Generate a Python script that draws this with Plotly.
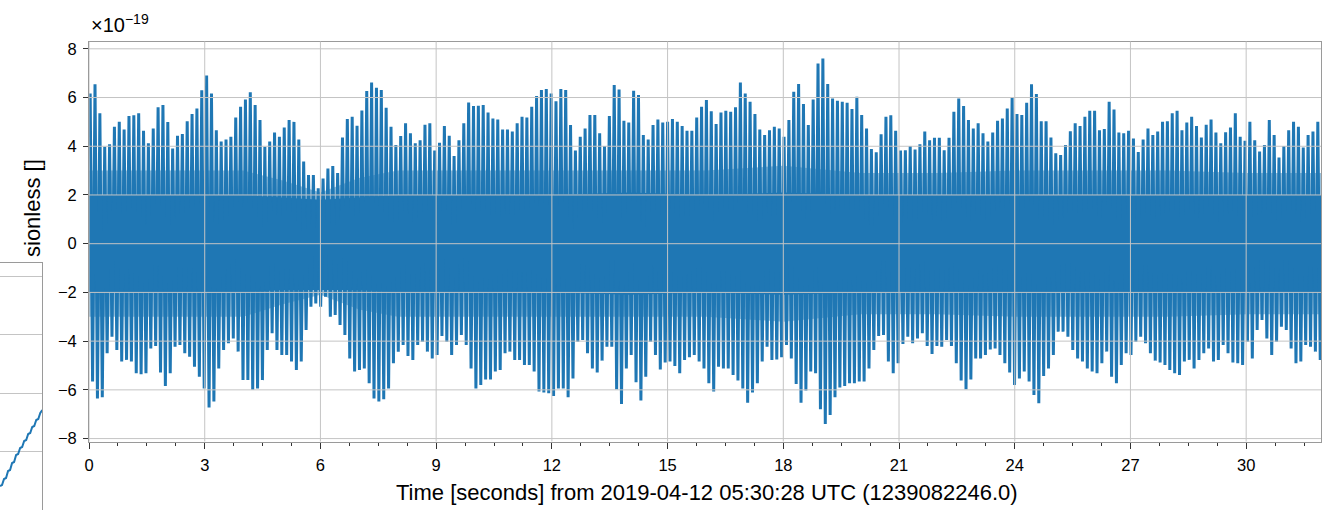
import numpy as np
import plotly.graph_objects as go

W, H = 1322, 510

# ---- data (strain, in units of 1e-19), read per oscillation peak ----
peak_top = [
    6.17, 6.54, 5.35, 3.98, 4.08, 4.8, 5.0, 4.69, 5.24, 5.27, 5.35, 4.64, 4.12, 4.73, 5.6, 5.69, 5.0, 3.91, 4.43, 4.5,
    5.03, 5.32, 5.55, 6.3, 6.9, 6.17, 4.66, 4.19, 4.28, 4.39, 5.18, 5.62, 5.92, 6.22, 5.69, 5.08, 3.98, 4.19, 4.56, 4.39,
    4.77, 5.08, 5.0, 4.28, 3.37, 2.82, 2.82, 2.27, 2.68, 3.09, 3.19,
    2.9, 4.36, 5.12, 5.21, 4.84, 5.47, 6.27, 6.62, 6.4, 6.31, 5.58, 4.8, 4.05, 4.42, 4.94, 4.53, 4.12, 4.25, 4.88, 4.94,
    3.82, 4.14, 4.83, 4.43, 3.6, 4.25, 4.94, 5.8, 5.65, 5.66, 5.69, 5.38, 5.14, 5.1, 4.69, 4.69, 4.6, 4.94, 5.21, 5.18,
    5.62, 6.06, 6.31, 6.35, 6.17, 5.85, 6.35, 6.31, 4.87, 3.82,
    4.39, 4.73, 5.28, 5.28, 4.53, 4.01, 5.24, 6.51, 6.33, 5.05, 4.97, 6.28, 6.1, 4.46, 4.28, 4.87, 5.1, 4.97, 5.01, 5.12,
    5.01, 4.83, 4.64, 4.64, 5.18, 5.62, 5.9, 5.44, 4.91, 5.38, 5.46, 5.42, 5.6, 6.62, 6.17, 5.83, 5.32, 4.69, 4.46, 4.66,
    4.8, 4.73, 4.39, 5.08, 6.24, 6.55, 5.73, 4.87, 5.92, 7.4, 7.6,
    6.55, 5.96, 5.87, 5.83, 5.79, 5.53, 6.03, 5.28, 4.73, 3.89, 3.75, 4.49, 5.21, 5.27, 4.64, 3.82, 3.84, 4.01, 3.87, 4.08,
    4.6, 4.25, 4.35, 4.35, 3.84, 4.35, 5.42, 5.96, 5.65, 5.08, 4.73, 4.94, 4.53, 4.19, 4.56, 5.05, 5.14, 5.55, 6.0, 5.32,
    5.28, 5.79, 6.54, 6.14, 5.03, 5.03, 4.36, 3.71, 3.64, 4.05,
    4.62, 4.94, 4.83, 5.21, 5.46, 5.46, 4.66, 4.71, 5.83, 5.51, 4.56, 4.53, 4.64, 4.32, 3.76, 4.28, 4.73, 4.46, 4.6, 5.01,
    5.03, 5.35, 5.46, 4.66, 4.97, 5.21, 4.83, 4.36, 4.88, 5.1, 4.56, 4.12, 4.57, 4.77, 5.35, 4.39, 4.23, 5.01, 4.25, 3.78,
    4.05, 5.08, 4.46, 3.54, 4.01, 4.66, 5.01, 4.8, 3.95, 4.46, 4.6, 5.01,
]
peak_bottom = [
    -5.66, -6.35, -6.3, -4.5, -3.82, -4.36, -4.84, -4.77, -4.84, -5.32, -5.36, -5.32, -4.3, -4.2, -5.29, -5.84, -5.32,
    -4.23, -4.16, -4.5, -4.64, -5.05, -5.46, -5.94, -6.72, -6.48, -5.12, -4.36, -4.09, -3.89, -4.43, -5.6, -5.6, -6.0,
    -5.94, -5.6, -4.36, -3.68, -4.36, -4.57, -4.57, -4.84, -5.18, -4.84, -3.54, -2.59, -2.45, -2.59, -2.18, -3.0, -2.93,
    -3.34, -3.75, -4.71, -5.25, -5.18, -5.12, -5.73, -6.35, -6.48, -6.39, -5.94, -4.91, -4.43, -4.16, -4.61, -4.77,
    -4.16, -4.02, -4.43, -4.71, -4.57, -3.79, -4.02, -4.57, -4.16, -3.75, -4.16, -5.12, -5.94, -5.8, -5.57, -5.57,
    -5.25, -5.18, -4.5, -4.43, -4.77, -4.77, -4.98, -4.98, -5.25, -6.07, -6.11, -6.14, -6.25, -5.94, -5.94, -6.3,
    -5.53, -4.02, -3.95,
    -4.5, -5.12, -5.29, -4.8, -4.23, -4.23, -5.98, -6.58, -5.12, -4.57, -5.69, -6.44, -5.46, -4.02, -4.57, -5.16,
    -4.88, -4.84, -5.02, -5.32, -4.77, -4.66, -4.57, -4.84, -5.12, -5.73, -6.07, -5.05, -5.12, -5.12, -5.39, -5.62,
    -5.94, -6.53, -6.11, -5.73, -4.84, -4.23, -4.77, -4.75, -4.66, -4.16, -4.71, -5.76, -6.53, -6.03, -5.25, -5.32,
    -6.8, -7.4,
    -7.03, -6.3, -5.9, -5.84, -5.73, -5.73, -5.66, -5.66, -5.12, -4.36, -3.79, -3.75, -4.84, -5.32, -4.91, -4.12,
    -3.82, -4.09, -3.89, -3.68, -4.2, -4.53, -4.2, -4.23, -3.95, -4.2, -4.91, -5.62, -5.98, -5.57, -4.71, -4.71,
    -4.57, -4.34, -4.3, -4.57, -4.91, -5.29, -5.8, -5.53, -5.25, -5.66, -6.21, -6.55, -5.43, -5.12, -4.57, -3.61,
    -3.61, -3.82, -4.36,
    -4.71, -4.84, -5.12, -5.25, -5.32, -4.91, -4.43, -5.46, -5.73, -4.98, -4.5, -4.57, -4.02, -3.82, -4.09, -4.5,
    -4.8, -4.88, -4.98, -5.18, -5.32, -5.39, -4.84, -4.77, -5.12, -4.77, -4.5, -4.3, -4.84, -4.77, -4.16, -4.5,
    -4.88, -4.91, -4.98, -4.02, -4.71, -3.54, -3.13, -3.89, -4.57, -4.02, -3.41, -3.54, -4.3, -4.91, -4.84, -4.16,
    -4.23, -4.43, -4.77,
]
t_start = 0.03     # seconds, first sampled peak
t_step = 0.1258    # seconds between peaks

# solid inner band of the dense high-frequency signal
core_t = [0, 2, 4, 5, 6, 7, 8, 10, 12, 14, 16, 18, 20, 22, 24, 26, 28, 30, 31.94]
core_hi = [2.0, 2.0, 2.0, 1.9, 1.8, 1.9, 2.0, 2.0, 2.0, 2.1, 2.0, 2.1, 2.0, 2.0, 2.0, 2.0, 2.0, 2.0, 2.0]
core_lo = [-2.0, -2.0, -2.0, -1.9, -1.9, -1.9, -2.0, -2.0, -2.0, -2.1, -2.0, -2.1, -2.0, -2.0, -2.0, -2.0, -2.0, -2.0, -2.0]
# mostly filled (streaky) band around the core
mid_hi = [3.0, 3.0, 3.0, 2.6, 2.1, 2.7, 3.0, 3.0, 3.0, 3.0, 3.0, 3.2, 2.9, 2.9, 3.0, 3.0, 3.0, 2.9, 2.9]
mid_lo = [-3.0, -3.0, -3.0, -2.5, -2.1, -2.7, -3.0, -3.0, -3.0, -3.0, -3.0, -3.2, -2.9, -2.9, -3.0, -3.0, -3.0, -2.9, -2.9]

# partial neighbouring panel (left, clipped)
inset_x = [0, 2, 4, 6, 8, 10, 12, 14, 16, 18, 20, 22, 24, 26, 28, 30, 32, 34, 36, 38, 40, 42]
inset_y = [0.410, 0.427, 0.530, 0.547, 0.667, 0.684, 0.803, 0.821, 0.940, 0.957, 1.060, 1.077,
           1.179, 1.197, 1.299, 1.316, 1.419, 1.436, 1.538, 1.556, 1.658, 1.709]

x_ticks = list(range(0, 31, 3))
y_ticks = list(range(-8, 9, 2))
x_title = "Time [seconds] from 2019-04-12 05:30:28 UTC (1239082246.0)"
y_title_visible = "sionless []"

# ---- build series ----
n = min(len(peak_top), len(peak_bottom))
t_top = t_start + np.arange(n) * t_step
t_bot = t_top + t_step / 2
xs = np.empty(2 * n)
ys = np.empty(2 * n)
xs[0::2] = t_top
xs[1::2] = t_bot
ys[0::2] = peak_top[:n]
ys[1::2] = peak_bottom[:n]

BLUE = "#1f77b4"
GRID = "#c4c4c4"
FRAME = "#9a9a9a"
FONT = "Arial, Liberation Sans, sans-serif"

def band(t, hi, lo, color):
    return go.Scatter(x=list(t) + list(t[::-1]), y=list(hi) + list(lo[::-1]),
                      mode="lines", fill="toself", fillcolor=color, line=dict(width=0, color=color),
                      xaxis="x", yaxis="y", hoverinfo="skip", showlegend=False)

fig = go.Figure()
fig.add_trace(band(core_t, mid_hi, mid_lo, "rgba(31,119,180,0.45)"))
fig.add_trace(band(core_t, core_hi, core_lo, BLUE))
fig.add_trace(go.Scatter(x=xs, y=ys, mode="lines", line=dict(color=BLUE, width=3.0, simplify=False),
                         xaxis="x", yaxis="y", hoverinfo="skip", showlegend=False))
fig.add_trace(go.Scatter(x=inset_x, y=inset_y, mode="lines", line=dict(color=BLUE, width=2),
                         xaxis="x2", yaxis="y2", hoverinfo="skip", showlegend=False))

def px_x(p):
    return p / W

def px_y(p):
    return 1 - p / H

shapes = []
for xt in x_ticks:
    shapes.append(dict(type="line", xref="x", yref="y domain", x0=xt, x1=xt, y0=0, y1=1,
                       line=dict(color=GRID, width=1), layer="above"))
for yt in y_ticks:
    shapes.append(dict(type="line", xref="x domain", yref="y", x0=0, x1=1, y0=yt, y1=yt,
                       line=dict(color=GRID, width=1), layer="above"))

fig.update_layout(
    width=W, height=H,
    margin=dict(l=0, r=0, t=0, b=0, pad=0, autoexpand=False),
    paper_bgcolor="white", plot_bgcolor="white",
    font=dict(family=FONT, color="black", size=16.5),
    showlegend=False,
    xaxis=dict(
        domain=[px_x(89), px_x(1321)], range=[0, 31.94], anchor="y",
        tickmode="array", tickvals=x_ticks, ticks="outside", ticklen=6, tickwidth=1,
        tickcolor="#333333", showgrid=False, zeroline=False,
        showline=True, linecolor=FRAME, linewidth=1, mirror=True,
        minor=dict(ticks="outside", ticklen=3.5, tickwidth=1, tickcolor="#333333",
                   tick0=0, dtick=0.75, showgrid=False),
        tickfont=dict(size=16.5), ticklabelstandoff=3, automargin=False,
    ),
    yaxis=dict(
        domain=[px_y(441.5), px_y(41.5)], range=[-8.12, 8.30], anchor="x",
        tickmode="array", tickvals=y_ticks, ticks="outside", ticklen=5, tickwidth=1,
        tickcolor="#333333", showgrid=False, zeroline=False,
        showline=True, linecolor=FRAME, linewidth=1, mirror=True,
        tickfont=dict(size=16.5), ticklabelstandoff=3, automargin=False,
    ),
    xaxis2=dict(
        domain=[0, px_x(42.3)], range=[0, 42], anchor="y2",
        showticklabels=False, ticks="", showgrid=False, zeroline=False,
        showline=True, linecolor=FRAME, linewidth=1, mirror=True, automargin=False,
    ),
    yaxis2=dict(
        domain=[0, px_y(262.7)], range=[0, (510 - 262.7) / 58.5], anchor="x2",
        side="right", showticklabels=False, ticks="", dtick=1, tick0=0,
        showgrid=True, gridcolor=GRID, zeroline=False,
        showline=True, linecolor=FRAME, linewidth=1, mirror=False, automargin=False,
    ),
    shapes=shapes,
    annotations=[
        dict(text=x_title, xref="paper", yref="paper", x=px_x(707), y=px_y(492),
             xanchor="center", yanchor="middle", showarrow=False, font=dict(size=22)),
        dict(text=y_title_visible, xref="paper", yref="paper", x=px_x(32), y=px_y(208),
             xanchor="center", yanchor="middle", textangle=-90, showarrow=False, font=dict(size=22)),
        dict(text="×10<sup>−19</sup>", xref="paper", yref="paper", x=px_x(89), y=px_y(38),
             xanchor="left", yanchor="bottom", showarrow=False, font=dict(size=20)),
    ],
)

fig.write_html("out.html")
